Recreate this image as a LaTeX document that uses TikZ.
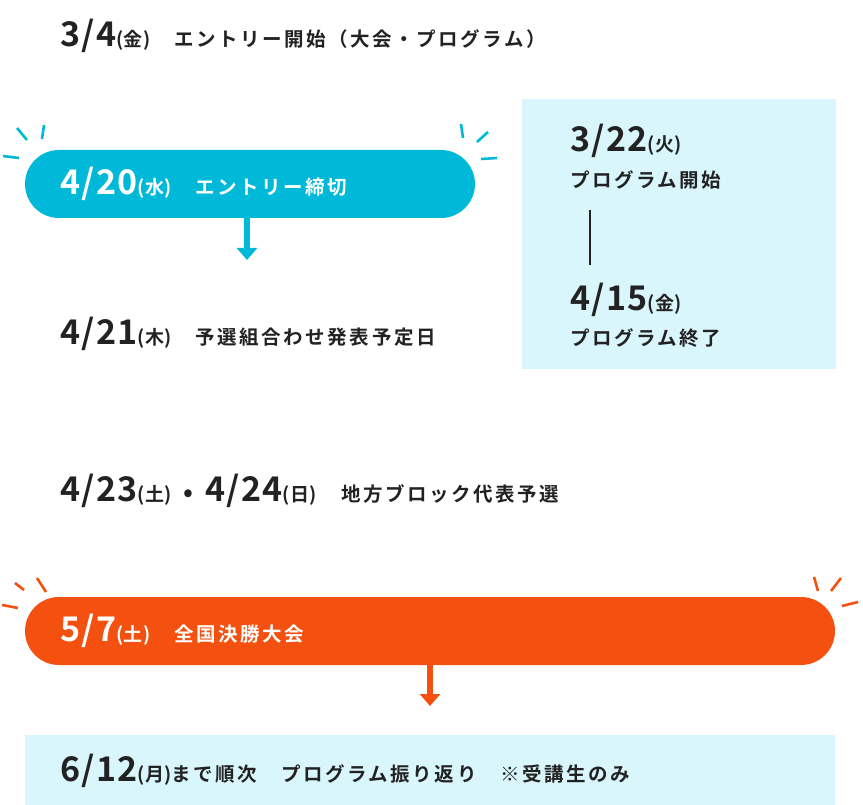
\documentclass[tikz,border=0pt]{standalone}
\usepackage{fontspec}
\setmainfont{Noto Sans CJK JP}[BoldFont={* Bold}]
\usetikzlibrary{arrows.meta}
\definecolor{cyanA}{HTML}{00B9D8}
\definecolor{orangeA}{HTML}{F4500F}
\definecolor{paleA}{HTML}{D9F6FC}
\definecolor{inkA}{HTML}{222222}
\tikzset{
  x=1pt,y=-1pt,
  lbl/.style={anchor=west,inner sep=0pt,text=inkA,font=\bfseries\fontsize{19.5}{21}\selectfont\addfontfeature{LetterSpace=13}},
  wlbl/.style={lbl,text=white},
  ray/.style={line width=2.6pt,line cap=butt},
  downarrow/.style={line width=6pt,-{Triangle[length=12pt,width=20pt]}},
}
\newcommand{\dt}[2]{{\fontsize{34}{36}\selectfont\addfontfeature{LetterSpace=4}#1}{\fontsize{19}{20}\selectfont\addfontfeature{LetterSpace=2}(#2)}}
\begin{document}
\begin{tikzpicture}
\useasboundingbox (0,0) rectangle (863,805);
% top
\node[lbl] (t1) at (60,36) {\dt{3/4}{金}\hspace{24pt}エントリー開始（大会・プログラム）};
% cyan pill
\fill[cyanA,rounded corners=34pt] (25,150) rectangle (475,218);
\node[wlbl] (t2) at (60,184) {\dt{4/20}{水}\hspace{24pt}エントリー締切};
\draw[ray,cyanA] (17,128) -- (27,140);
\draw[ray,cyanA] (44,125) -- (42,139);
\draw[ray,cyanA] (3,156) -- (19,158);
\draw[ray,cyanA] (461,124) -- (463,138);
\draw[ray,cyanA] (488,132) -- (477,142);
\draw[ray,cyanA] (481,159) -- (497,158);
\coordinate (a1s) at (247,218); \coordinate (a1e) at (247,260);
\draw[downarrow,cyanA] (a1s) -- (a1e);
\node[lbl] (t3) at (60,334) {\dt{4/21}{木}\hspace{24pt}予選組合わせ発表予定日};
% side box
\fill[paleA] (522,99) rectangle (836,369);
\node[lbl] (s1) at (570,141) {\dt{3/22}{火}};
\node[lbl] (s2) at (570,180) {プログラム開始};
\node[lbl] (s3) at (570,300) {\dt{4/15}{金}};
\node[lbl] (s4) at (570,338) {プログラム終了};
\coordinate (l1) at (590,210); \coordinate (l2) at (590,265);
\draw[inkA,line width=1.5pt] (l1) -- (l2);
% qualifiers
\node[lbl] (t4) at (60,491) {\dt{4/23}{土}\hspace{12pt}{\fontsize{26}{26}\selectfont •}\hspace{12pt}\dt{4/24}{日}\hspace{24pt}地方ブロック代表予選};
% orange pill
\fill[orangeA,rounded corners=34pt] (25,597) rectangle (835,665);
\node[wlbl] (t5) at (60,631) {\dt{5/7}{土}\hspace{24pt}全国決勝大会};
\draw[ray,orangeA] (37,578) -- (46,592);
\draw[ray,orangeA] (15,583) -- (24,590);
\draw[ray,orangeA] (2,605) -- (18,608);
\draw[ray,orangeA] (814,577) -- (818,591);
\draw[ray,orangeA] (841,578) -- (831,591);
\draw[ray,orangeA] (842,606) -- (858,602);
\coordinate (a2s) at (430,665); \coordinate (a2e) at (430,706);
\draw[downarrow,orangeA] (a2s) -- (a2e);
% bottom box
\fill[paleA] (25,735) rectangle (835,805);
\node[lbl] (t6) at (60,771) {\dt{6/12}{月}まで順次\hspace{24pt}プログラム振り返り\hspace{24pt}※受講生のみ};
\end{tikzpicture}
\end{document}
